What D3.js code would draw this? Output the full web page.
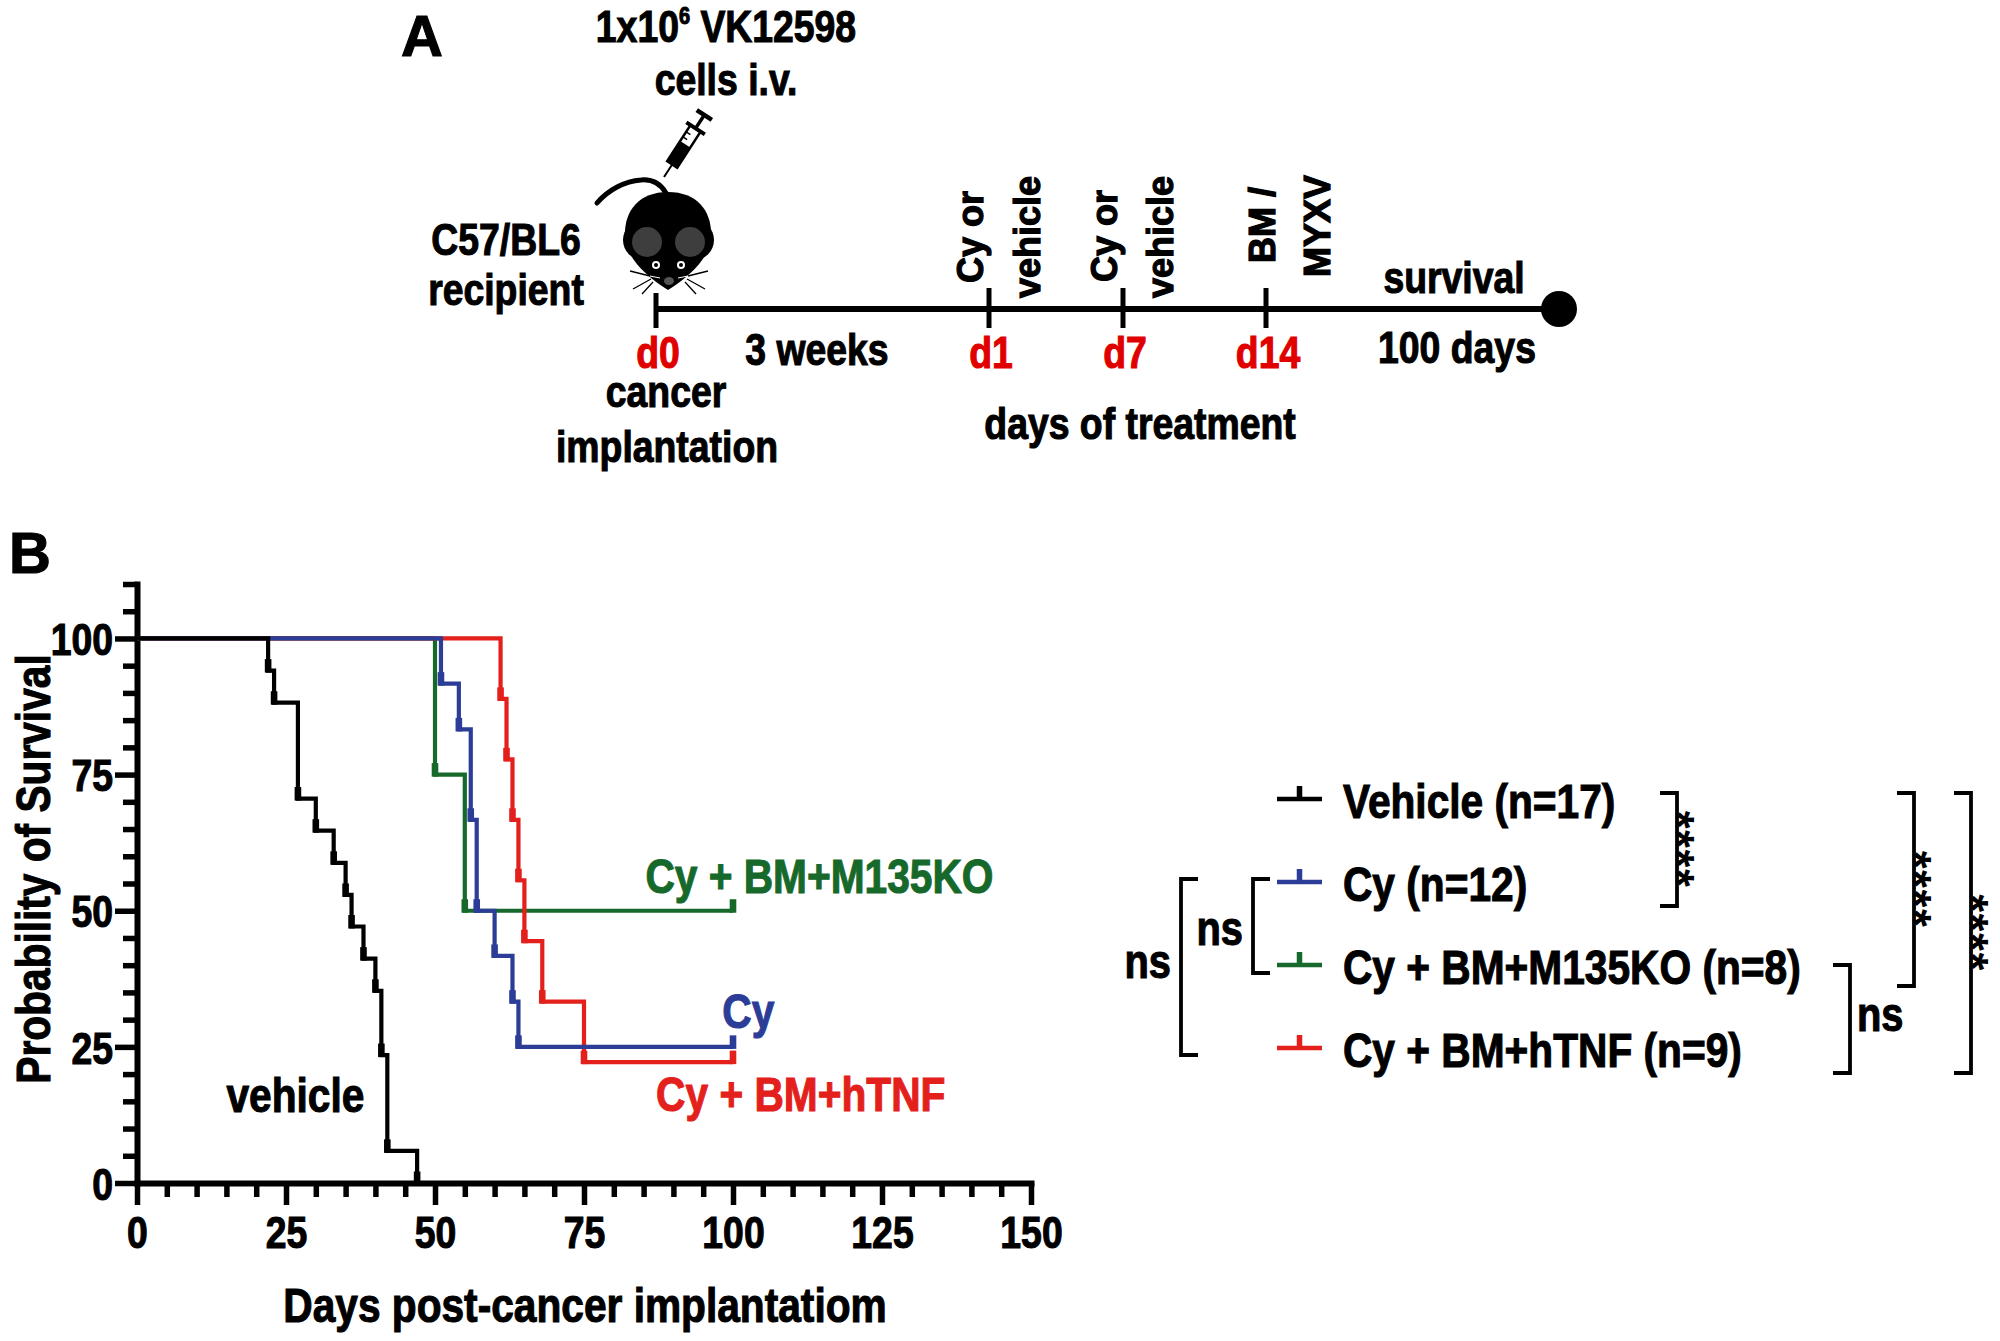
<!DOCTYPE html>
<html>
<head>
<meta charset="utf-8">
<script src="https://cdn.jsdelivr.net/npm/d3@7"></script>
<style>
  body { margin: 0; background: #fff; }
  text { font-family: 'Liberation Sans', Arial, sans-serif; font-weight: 700; fill: #000; stroke: #000; stroke-width: 1.1px; }
  .axis path, .axis line { stroke: #000; }
</style>
</head>
<body>
<div id="chart"></div>
<script>
// ---- survival data (Kaplan-Meier steps) ----
const groups = ["Vehicle", "Cy", "Cy + BM+M135KO", "Cy + BM+hTNF"];
const groupN = [17, 12, 8, 9];
const groupColors = ["#000000", "#2b3d97", "#17692b", "#e3201b"];

const vehicleDays = [22, 23, 27, 30, 33, 35, 36, 38, 40, 41, 42, 47];
const vehicleSurv = [94.1, 88.2, 70.6, 64.7, 58.8, 52.9, 47.1, 41.2, 35.3, 23.5, 5.9, 0];

const cyDays = [51, 54, 56, 57, 60, 63, 64];
const cySurv = [91.7, 83.3, 66.7, 50, 41.7, 33.3, 25];

const koDays = [50, 55];
const koSurv = [75, 50];

const tnfDays = [61, 62, 63, 64, 65, 68, 75];
const tnfSurv = [88.9, 77.8, 66.7, 55.6, 44.4, 33.3, 22.2];

// last day of follow-up (censored), null = curve ends with a death
const lastDay = [null, 100, 100, 100];

// labels written next to curves, in data units (day, % survival)
const curveLabels = ["vehicle", "Cy", "Cy + BM+M135KO", "Cy + BM+hTNF"];
const curveLabelPos = [[15, 13], [98.2, 28.5], [85.3, 53.2], [87.1, 13.3]];

// axis ticks
const xMajor = [0, 25, 50, 75, 100, 125, 150];
const yMajor = [0, 25, 50, 75, 100];

// log-rank comparisons drawn as brackets beside the legend
const comparisons = [
  {a: 0, b: 1, label: "****", side: "right"},
  {a: 0, b: 2, label: "****", side: "right"},
  {a: 0, b: 3, label: "****", side: "right"},
  {a: 2, b: 3, label: "ns", side: "right"},
  {a: 1, b: 2, label: "ns", side: "left"},
  {a: 1, b: 3, label: "ns", side: "left"}
];

// ---- timeline of panel A ----
const timelineDays = [0, 21, 27, 34];          // days after implantation
const timelineLabels = ["d0", "d1", "d7", "d14"];
const timelineEnd = 134;

const width = 2000, height = 1341;
const svg = d3.select("#chart").append("svg")
  .attr("width", width).attr("height", height);

// no narrow font installed: squeeze Liberation Sans Bold like Arial Narrow
function narrow(sel, f) {
  f = f || 0.83;
  sel.each(function() {
    const w = this.getComputedTextLength();
    d3.select(this).attr("textLength", w * f).attr("lengthAdjust", "spacingAndGlyphs");
  });
  return sel;
}

// ============ PANEL A ============
svg.append("text")
  .attr("x", 422).attr("y", 56).attr("text-anchor", "middle")
  .style("font-size", "58px").text("A");

// schematic scale (not proportional: treatment days are spread out)
const tx = d3.scaleLinear()
  .domain([0, 21, 27, 34, timelineEnd])
  .range([656, 989, 1123, 1266, 1559]);
const lineY = 309;

svg.append("line")
  .attr("x1", tx(0)).attr("x2", tx(timelineEnd))
  .attr("y1", lineY).attr("y2", lineY)
  .attr("stroke", "#000").attr("stroke-width", 6);

svg.append("circle")
  .attr("cx", tx(timelineEnd)).attr("cy", lineY).attr("r", 18).attr("fill", "#000");

svg.selectAll(".tltick").data(timelineDays).enter().append("line")
  .attr("x1", d => tx(d)).attr("x2", d => tx(d))
  .attr("y1", (d, i) => i === 0 ? lineY - 16 : lineY - 21)
  .attr("y2", lineY + 19)
  .attr("stroke", "#000").attr("stroke-width", 5);

narrow(svg.selectAll(".tllab").data(timelineDays).enter().append("text")
  .attr("x", d => tx(d) + 2).attr("y", 368)
  .attr("text-anchor", "middle")
  .style("font-size", "45px").style("fill", "#e00000").style("stroke", "#e00000")
  .text((d, i) => timelineLabels[i]));

const plainA = [
  ["1x10", 726, 42], ["cells i.v.", 726, 95],
  ["C57/BL6", 506, 255], ["recipient", 506, 305],
  ["3 weeks", 817, 365], ["cancer", 666, 407], ["implantation", 667, 462],
  ["days of treatment", 1140, 439], ["survival", 1454, 293], ["100 days", 1457, 363]
];
plainA.forEach(function(t) {
  const el = svg.append("text")
    .attr("x", t[1]).attr("y", t[2])
    .attr("text-anchor", "middle")
    .style("font-size", "45px");
  if (t[0] === "1x10") {
    el.append("tspan").text("1x10");
    el.append("tspan").attr("dy", -18).style("font-size", "24px").text("6");
    el.append("tspan").attr("dy", 18).text(" VK12598");
  } else {
    el.text(t[0]);
  }
  narrow(el);
});

// rotated treatment labels
const rotA = [
  ["Cy or", 983, 283], ["vehicle", 1040, 298],
  ["Cy or", 1117, 282], ["vehicle", 1173, 298],
  ["BM /", 1275, 263], ["MYXV", 1330, 277]
];
rotA.forEach(function(t) {
  svg.append("text")
    .attr("transform", `translate(${t[1]},${t[2]}) rotate(-90)`)
    .style("font-size", "36px").style("stroke-width", "1.2px").text(t[0]);
});

// mouse
const mouse = svg.append("g");
mouse.append("path")
  .attr("d", "M597,203 C608,190 625,181 641,180 C652,179 660,183 666,193")
  .attr("fill", "none").attr("stroke", "#000").attr("stroke-width", 5).attr("stroke-linecap", "round");
mouse.append("path")
  .attr("d", "M668,192 C698,192 712,212 711,236 C710,258 690,276 668,290 C646,276 626,258 625,236 C624,212 638,192 668,192Z")
  .attr("fill", "#000");
[[643, 647], [694, 690]].forEach(function(e) {
  mouse.append("circle").attr("cx", e[0]).attr("cy", 240).attr("r", 20).attr("fill", "#000");
  mouse.append("circle").attr("cx", e[1]).attr("cy", 242).attr("r", 15).attr("fill", "#3e3e3e");
});
[656, 681].forEach(function(cx) {
  mouse.append("circle").attr("cx", cx).attr("cy", 265).attr("r", 4).attr("fill", "#fff");
  mouse.append("circle").attr("cx", cx).attr("cy", 265).attr("r", 2).attr("fill", "#000");
});
mouse.append("ellipse").attr("cx", 669).attr("cy", 281).attr("rx", 5).attr("ry", 4).attr("fill", "#555");
[[650, 276, 630, 271], [651, 279, 633, 289], [653, 282, 642, 294],
 [688, 276, 708, 271], [687, 279, 705, 289], [685, 282, 696, 294]].forEach(function(w) {
  mouse.append("line").attr("x1", w[0]).attr("y1", w[1]).attr("x2", w[2]).attr("y2", w[3])
    .attr("stroke", "#000").attr("stroke-width", 1.3);
});
[[650, 276, 660, 278], [688, 276, 678, 278]].forEach(function(w) {
  mouse.append("line").attr("x1", w[0]).attr("y1", w[1]).attr("x2", w[2]).attr("y2", w[3])
    .attr("stroke", "#fff").attr("stroke-width", 1);
});

// syringe
const syr = svg.append("g").attr("transform", "translate(664,177) rotate(-57)");
syr.append("line").attr("x1", 0).attr("x2", 15).attr("y1", 0).attr("y2", 0).attr("stroke", "#000").attr("stroke-width", 2);
syr.append("rect").attr("x", 15).attr("y", -6).attr("width", 43).attr("height", 12)
  .attr("fill", "#fff").attr("stroke", "#000").attr("stroke-width", 2.5);
syr.append("rect").attr("x", 15).attr("y", -6).attr("width", 24).attr("height", 12).attr("fill", "#000");
[44, 50].forEach(function(g) {
  syr.append("line").attr("x1", g).attr("x2", g).attr("y1", -6).attr("y2", -1).attr("stroke", "#000").attr("stroke-width", 1.5);
});
syr.append("line").attr("x1", 58).attr("x2", 58).attr("y1", -11).attr("y2", 11).attr("stroke", "#000").attr("stroke-width", 4);
syr.append("line").attr("x1", 58).attr("x2", 74).attr("y1", 0).attr("y2", 0).attr("stroke", "#000").attr("stroke-width", 3.5);
syr.append("line").attr("x1", 74).attr("x2", 74).attr("y1", -9).attr("y2", 9).attr("stroke", "#000").attr("stroke-width", 4.5);

// ============ PANEL B ============
svg.append("text")
  .attr("x", 9).attr("y", 573).style("font-size", "58px").text("B");

const x = d3.scaleLinear().domain([0, 150]).range([137, 1031]);
const y = d3.scaleLinear().domain([0, 110]).range([1183, 584]);

const xMinor = d3.range(0, 151, 5).filter(v => v % 25 !== 0);
const yMinor = d3.range(5, 111, 5).filter(v => v % 25 !== 0);

svg.append("g").attr("class", "axis")
  .attr("transform", `translate(0,${y(0)})`)
  .call(d3.axisBottom(x).tickValues(xMinor).tickSize(14).tickFormat(""))
  .call(g => g.select(".domain").remove())
  .selectAll("line").attr("stroke-width", 5.5);

svg.append("g").attr("class", "axis")
  .attr("transform", `translate(${x(0)},0)`)
  .call(d3.axisLeft(y).tickValues(yMinor).tickSize(14).tickFormat(""))
  .call(g => g.select(".domain").remove())
  .selectAll("line").attr("stroke-width", 5.5);

const xAxis = svg.append("g").attr("class", "axis")
  .attr("transform", `translate(0,${y(0)})`)
  .call(d3.axisBottom(x).tickValues(xMajor).tickSize(22).tickSizeOuter(0).tickPadding(11));

const yAxis = svg.append("g").attr("class", "axis")
  .attr("transform", `translate(${x(0)},0)`)
  .call(d3.axisLeft(y).tickValues(yMajor).tickSize(22).tickSizeOuter(0).tickPadding(2));

[xAxis, yAxis].forEach(function(ax) {
  ax.attr("font-family", null).attr("font-size", null);
  ax.select(".domain").attr("stroke-width", 6).attr("stroke-linecap", "square");
  ax.selectAll(".tick line").attr("stroke-width", 5.5);
  narrow(ax.selectAll("text").style("font-size", "45px").style("fill", "#000"));
});
yAxis.selectAll("text").attr("dy", "0.36em");

narrow(svg.append("text")
  .attr("x", 585).attr("y", 1322).attr("text-anchor", "middle")
  .style("font-size", "49px").text("Days post-cancer implantatiom"));

narrow(svg.append("text")
  .attr("transform", "translate(50,869) rotate(-90)")
  .attr("text-anchor", "middle")
  .style("font-size", "49px").text("Probability of Survival"));

// build step curves
const daysAll = [vehicleDays, cyDays, koDays, tnfDays];
const survAll = [vehicleSurv, cySurv, koSurv, tnfSurv];

const series = groups.map(function(g, i) {
  const pts = [{day: 0, s: 100}];
  daysAll[i].forEach((d, j) => pts.push({day: d, s: survAll[i][j]}));
  const events = pts.slice(1);
  if (lastDay[i] !== null) {
    pts.push({day: lastDay[i], s: survAll[i][survAll[i].length - 1]});
    events.push(pts[pts.length - 1]);
  }
  return {name: g, color: groupColors[i], pts: pts, events: events};
});

const step = d3.line()
  .x(d => x(d.day))
  .y(d => y(d.s))
  .curve(d3.curveStepAfter);

// draw order so overlaps look like the original: green, red, blue, black
const drawOrder = [2, 3, 1, 0];
drawOrder.forEach(function(i) {
  const s = series[i];
  const g = svg.append("g");
  g.append("path")
    .datum(s.pts)
    .attr("d", step)
    .attr("fill", "none")
    .attr("stroke", s.color)
    .attr("stroke-width", 4.2)
    .attr("stroke-linejoin", "miter");
  g.selectAll("rect").data(s.events).enter().append("rect")
    .attr("x", d => x(d.day) - 3.3)
    .attr("y", d => y(d.s) - 11.5)
    .attr("width", 6.6)
    .attr("height", 13.5)
    .attr("fill", s.color);
});

// curve labels
curveLabels.forEach(function(t, i) {
  narrow(svg.append("text")
    .attr("x", x(curveLabelPos[i][0]))
    .attr("y", y(curveLabelPos[i][1]))
    .style("font-size", "49px")
    .style("fill", groupColors[i]).style("stroke", groupColors[i])
    .text(t));
});

// legend
const rowY = d3.scaleLinear().domain([0, 3]).range([799, 1048]);
const legend = svg.append("g");
groups.forEach(function(g, i) {
  const yy = rowY(i);
  legend.append("line")
    .attr("x1", 1277).attr("x2", 1322).attr("y1", yy).attr("y2", yy)
    .attr("stroke", groupColors[i]).attr("stroke-width", 4.5);
  legend.append("line")
    .attr("x1", 1299.5).attr("x2", 1299.5).attr("y1", yy).attr("y2", yy - 13)
    .attr("stroke", groupColors[i]).attr("stroke-width", 5.5);
  narrow(legend.append("text")
    .attr("x", 1343).attr("y", yy + 19)
    .style("font-size", "49px")
    .text(`${g} (n=${groupN[i]})`));
});

// significance brackets
const bracketGeom = [
  {x: 1677, top: -6, bot: 24},
  {x: 1914, top: -6, bot: 21},
  {x: 1971, top: -6, bot: 25},
  {x: 1850, top: 0, bot: 25},
  {x: 1253, top: -3, bot: 8},
  {x: 1181, top: -3, bot: 7}
];
comparisons.forEach(function(c, i) {
  const gm = bracketGeom[i];
  const y1 = rowY(c.a) + gm.top, y2 = rowY(c.b) + gm.bot;
  const arm = c.side === "right" ? -17 : 17;
  svg.append("path")
    .attr("d", `M${gm.x + arm},${y1}H${gm.x}V${y2}H${gm.x + arm}`)
    .attr("fill", "none").attr("stroke", "#000").attr("stroke-width", 3.8);
  const mid = (y1 + y2) / 2;
  if (c.label === "****") {
    svg.append("text")
      .attr("transform", `translate(${gm.x + 13},${mid}) rotate(90)`)
      .attr("text-anchor", "middle").attr("dy", "0.6em")
      .style("font-size", "46px").style("stroke", "none")
      .style("letter-spacing", "1.5px")
      .text(c.label);
  } else if (c.side === "right") {
    narrow(svg.append("text")
      .attr("x", gm.x + 7).attr("y", mid + 12)
      .style("font-size", "48px").text(c.label));
  } else {
    narrow(svg.append("text")
      .attr("x", gm.x - 10).attr("y", i === 4 ? 945 : 978)
      .attr("text-anchor", "end")
      .style("font-size", "48px").text(c.label));
  }
});
</script>
</body>
</html>
